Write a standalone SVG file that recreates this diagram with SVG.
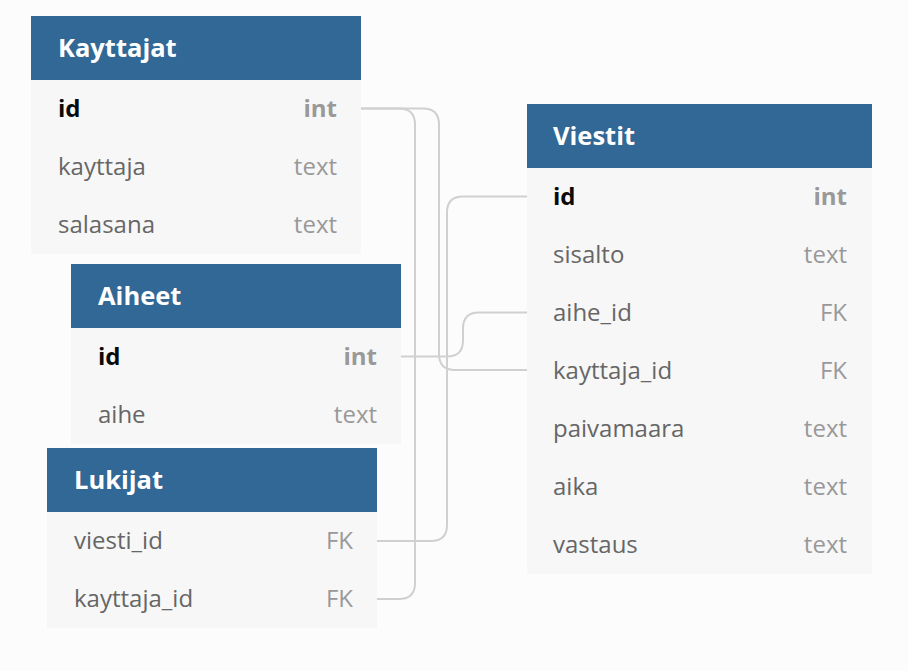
<svg xmlns="http://www.w3.org/2000/svg" width="908" height="671" viewBox="0 0 908 671">
<style>
.bg{fill:#fcfcfc}
.hd{fill:#316896}
.bd{fill:#f7f7f7}
.ht{font-family:"Open Sans","Noto Sans",sans-serif;font-weight:bold;font-size:25.5px;fill:#ffffff}
.fn{font-family:"Open Sans","Noto Sans",sans-serif;font-size:24px;fill:#666666}
.pk{font-family:"Open Sans","Noto Sans",sans-serif;font-size:24px;font-weight:bold;fill:#0a0a0a}
.ty{font-family:"Open Sans","Noto Sans",sans-serif;font-size:24px;fill:#999999;text-anchor:end}
.tk{font-family:"Open Sans","Noto Sans",sans-serif;font-size:24px;font-weight:bold;fill:#999999;text-anchor:end}
.cn{fill:none;stroke:#d0d0d0;stroke-width:2}
</style>
<rect class="bg" x="0" y="0" width="908" height="671"/>
<g id="connectors">
<path class="cn" d="M361,108.5 H399 Q415,108.5 415,124.5 V583 Q415,599 399,599 H377"/>
<path class="cn" d="M361,108.5 H423 Q439,108.5 439,124.5 V354 Q439,370 455,370 H527"/>
<path class="cn" d="M527,196.5 H463 Q447,196.5 447,212.5 V525 Q447,541 431,541 H377"/>
<path class="cn" d="M401,356.5 H447 Q463,356.5 463,340.5 V328.5 Q463,312.5 479,312.5 H527"/>
</g>
<g id="Kayttajat">
<rect class="hd" x="31" y="16" width="330" height="64"/>
<rect class="bd" x="31" y="80" width="330" height="174"/>
<text class="ht" x="58" y="57">Kayttajat</text>
<text class="pk" x="58" y="117">id</text><text class="tk" x="337" y="117">int</text>
<text class="fn" x="58" y="175">kayttaja</text><text class="ty" x="337" y="175">text</text>
<text class="fn" x="58" y="233">salasana</text><text class="ty" x="337" y="233">text</text>
</g>
<g id="Aiheet">
<rect class="hd" x="71" y="264" width="330" height="64"/>
<rect class="bd" x="71" y="328" width="330" height="116"/>
<text class="ht" x="98" y="305">Aiheet</text>
<text class="pk" x="98" y="365">id</text><text class="tk" x="377" y="365">int</text>
<text class="fn" x="98" y="423">aihe</text><text class="ty" x="377" y="423">text</text>
</g>
<g id="Lukijat">
<rect class="hd" x="47" y="448" width="330" height="64"/>
<rect class="bd" x="47" y="512" width="330" height="116"/>
<text class="ht" x="74" y="489">Lukijat</text>
<text class="fn" x="74" y="549">viesti_id</text><text class="ty" x="353" y="549">FK</text>
<text class="fn" x="74" y="607">kayttaja_id</text><text class="ty" x="353" y="607">FK</text>
</g>
<g id="Viestit">
<rect class="hd" x="527" y="104" width="345" height="64"/>
<rect class="bd" x="527" y="168" width="345" height="406"/>
<text class="ht" x="553" y="145">Viestit</text>
<text class="pk" x="553" y="205">id</text><text class="tk" x="847" y="205">int</text>
<text class="fn" x="553" y="263">sisalto</text><text class="ty" x="847" y="263">text</text>
<text class="fn" x="553" y="321">aihe_id</text><text class="ty" x="847" y="321">FK</text>
<text class="fn" x="553" y="379">kayttaja_id</text><text class="ty" x="847" y="379">FK</text>
<text class="fn" x="553" y="437">paivamaara</text><text class="ty" x="847" y="437">text</text>
<text class="fn" x="553" y="495">aika</text><text class="ty" x="847" y="495">text</text>
<text class="fn" x="553" y="553">vastaus</text><text class="ty" x="847" y="553">text</text>
</g>
</svg>
